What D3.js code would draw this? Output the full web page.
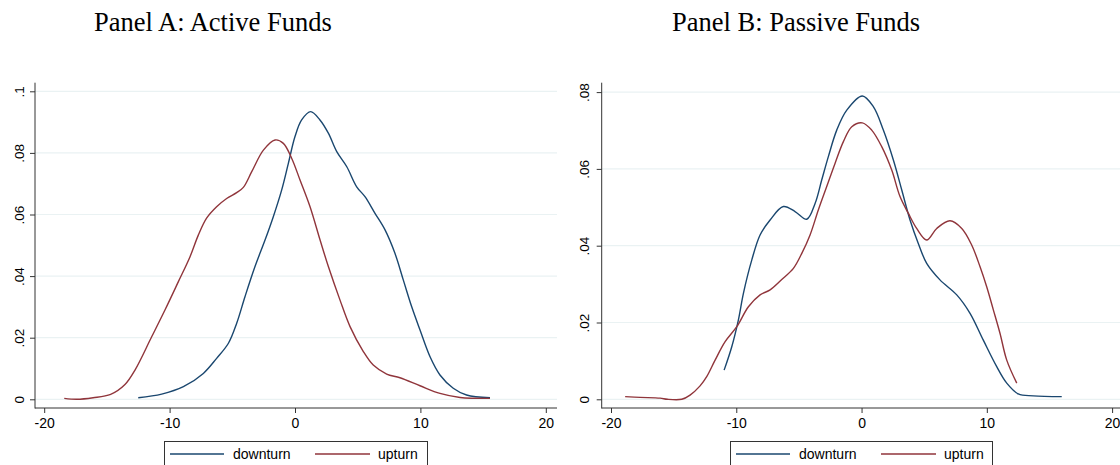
<!DOCTYPE html>
<html><head><meta charset="utf-8">
<script src="https://cdn.jsdelivr.net/npm/d3@7"></script>
<style>body{margin:0;background:#fff}svg{display:block}</style>
</head><body>
<script>
// ---------- data ----------
const titles = ["Panel A: Active Funds", "Panel B: Passive Funds"];
const seriesNames = ["downturn", "upturn"];
const xTicks = [-20, -10, 0, 10, 20];
const yTicksA = [0, 0.02, 0.04, 0.06, 0.08, 0.1];
const yTickLabelsA = ["0", ".02", ".04", ".06", ".08", ".1"];
const yTicksB = [0, 0.02, 0.04, 0.06, 0.08];
const yTickLabelsB = ["0", ".02", ".04", ".06", ".08"];

// Panel A: active funds, downturn
const activeDownX = [-12.5,-10.63,-8.9,-7.31,-6.25,-5.31,-4.65,-3.99,-3.19,-2.39,-1.73,-1.06,-0.53,0,0.53,1.25,1.99,2.66,3.33,4.13,4.92,5.58,6.38,7.18,7.97,8.64,9.3,9.97,10.77,11.56,12.62,13.68,15.55];
const activeDownY = [0.0005,0.0017,0.0041,0.0084,0.0133,0.0182,0.0247,0.0333,0.0431,0.0517,0.0593,0.068,0.0766,0.0853,0.0907,0.0934,0.0907,0.0864,0.0804,0.0755,0.069,0.0658,0.0604,0.055,0.0474,0.0387,0.0301,0.0225,0.0138,0.0079,0.0036,0.0014,0.0005];
// Panel A: active funds, upturn
const activeUpX = [-18.4,-17.4,-16.1,-14.7,-13.56,-12.76,-11.43,-10.37,-9.3,-8.37,-7.71,-7.05,-6.25,-5.45,-4.65,-4.12,-3.45,-2.52,-1.59,-0.93,-0.26,0.4,1.2,2.0,2.66,3.59,4.39,5.45,6.24,7.31,8.37,9.97,11.56,13.16,15.55];
const activeUpY = [0.0003,0.0,0.0005,0.0016,0.0048,0.0095,0.0203,0.029,0.0382,0.0463,0.0533,0.0588,0.0625,0.0652,0.0671,0.0688,0.0739,0.0809,0.0842,0.0831,0.0782,0.0712,0.0625,0.0517,0.0431,0.0322,0.0236,0.0155,0.0111,0.0082,0.007,0.0044,0.0019,0.0006,0.0003];
// Panel B: passive funds, downturn
const passiveDownX = [-10.97,-10.36,-9.83,-9.43,-8.76,-8.1,-7.3,-6.24,-5.31,-4.37,-3.71,-3.18,-2.65,-1.98,-1.18,0.06,0.94,1.74,2.54,3.21,3.87,4.53,5.2,6.26,7.6,8.66,9.72,10.79,11.59,12.51,13.71,15.98];
const passiveDownY = [0.0076,0.0137,0.0207,0.0276,0.0363,0.0428,0.0467,0.0502,0.0489,0.0469,0.051,0.0571,0.0632,0.0701,0.0753,0.079,0.0762,0.0701,0.0623,0.0545,0.0467,0.0406,0.0354,0.0311,0.0272,0.0224,0.0154,0.0085,0.0042,0.0014,0.0009,0.0007];
// Panel B: passive funds, upturn
const passiveUpX = [-18.87,-17.68,-16.08,-15.5,-14.35,-13.69,-12.89,-12.36,-11.69,-10.89,-9.96,-9.03,-8.1,-7.3,-6.37,-5.44,-4.77,-4.11,-3.45,-2.78,-2.11,-1.45,-0.78,0.06,0.81,1.61,2.41,3.07,3.74,4.4,5.2,6.0,7.06,8.0,8.79,9.46,9.99,10.52,11.05,11.59,12.39];
const passiveUpY = [0.0007,0.0005,0.0003,0.0,0.0,0.0011,0.0035,0.0059,0.0102,0.015,0.0189,0.0241,0.0272,0.0285,0.0312,0.0341,0.038,0.0428,0.0493,0.0554,0.0615,0.0671,0.071,0.072,0.0701,0.0658,0.0597,0.0528,0.0484,0.0445,0.0415,0.0445,0.0465,0.0445,0.0402,0.0345,0.0293,0.0233,0.0172,0.0102,0.0042];

// ---------- drawing ----------
const W = 1120, H = 465;
const svg = d3.select("body").append("svg").attr("width", W).attr("height", H);
const colors = ["#1a476f", "#90353b"];

const panels = [
  { title: titles[0], titleX: 94, axisX: 35, rightX: 557, x0: 44.2, x1: 545.8,
    yMax: 0.1, yTop: 91.3, yTicks: yTicksA, yLabels: yTickLabelsA, labelX: 24,
    series: [[activeDownX, activeDownY], [activeUpX, activeUpY]],
    legend: { x0: 164, x1: 427 } },
  { title: titles[1], titleX: 672, axisX: 601.7, rightX: 1120, x0: 611, x1: 1112.1,
    yMax: 0.08, yTop: 92.1, yTicks: yTicksB, yLabels: yTickLabelsB, labelX: 589,
    series: [[passiveDownX, passiveDownY], [passiveUpX, passiveUpY]],
    legend: { x0: 730, x1: 992 } }
];

const yZero = 399.3, axisY = 408, plotTop = 82.7;

panels.forEach(p => {
  const g = svg.append("g");
  const x = d3.scaleLinear().domain([-20, 20]).range([p.x0, p.x1]);
  const y = d3.scaleLinear().domain([0, p.yMax]).range([yZero, p.yTop]);

  // title
  g.append("text").attr("x", p.titleX).attr("y", 31)
    .attr("font-family", "'Liberation Serif','Times New Roman',serif")
    .attr("font-size", 26.5).attr("fill", "#000").text(p.title);

  // gridlines
  g.selectAll("line.grid").data(p.yTicks).join("line")
    .attr("x1", p.axisX).attr("x2", p.rightX)
    .attr("y1", d => y(d)).attr("y2", d => y(d))
    .attr("stroke", "#eaf2f3").attr("stroke-width", 1.2);

  // y axis
  const yAxis = d3.axisLeft(y).tickValues(p.yTicks).tickSize(5)
    .tickFormat((d, i) => p.yLabels[i]);
  const ya = g.append("g").attr("transform", `translate(${p.axisX},0)`).call(yAxis);
  ya.select(".domain").remove();
  ya.selectAll(".tick line").attr("stroke", "#333");
  ya.selectAll(".tick text")
    .attr("x", null).attr("dy", null)
    .attr("transform", `translate(${p.labelX - p.axisX},0) rotate(-90)`)
    .attr("text-anchor", "middle")
    .attr("font-family", "'Liberation Sans',Arial,sans-serif")
    .attr("font-size", 13.5).attr("fill", "#000");
  g.append("line").attr("x1", p.axisX).attr("x2", p.axisX)
    .attr("y1", plotTop).attr("y2", axisY + 0.5).attr("stroke", "#333").attr("stroke-width", 1);

  // x axis
  const xAxis = d3.axisBottom(x).tickValues(xTicks).tickSize(5).tickFormat(d3.format("d"));
  const xa = g.append("g").attr("transform", `translate(0,${axisY})`).call(xAxis);
  xa.select(".domain").remove();
  xa.selectAll(".tick line").attr("stroke", "#333");
  xa.selectAll(".tick text").attr("y", 10).attr("dy", "0.71em")
    .attr("font-family", "'Liberation Sans',Arial,sans-serif")
    .attr("font-size", 14).attr("fill", "#000")
    .text(d => d < 0 ? "-" + Math.abs(d) : d);
  g.append("line").attr("x1", p.axisX).attr("x2", p.rightX)
    .attr("y1", axisY).attr("y2", axisY).attr("stroke", "#333").attr("stroke-width", 1);

  // curves
  const line = d3.line().x(d => x(d[0])).y(d => y(d[1])).curve(d3.curveCatmullRom.alpha(0.5));
  p.series.forEach((s, i) => {
    const pts = s[0].map((v, k) => [v, s[1][k]]);
    g.append("path").datum(pts).attr("d", line)
      .attr("fill", "none").attr("stroke", colors[i]).attr("stroke-width", 1.4);
  });

  // legend
  const L = p.legend;
  g.append("rect").attr("x", L.x0 + 0.5).attr("y", 441.5)
    .attr("width", L.x1 - L.x0).attr("height", 40)
    .attr("fill", "#fff").attr("stroke", "#333").attr("stroke-width", 1);
  const ly = 454;
  const items = [
    { x1: L.x0 + 6, x2: L.x0 + 60, tx: L.x0 + 69 },
    { x1: L.x0 + 151, x2: L.x0 + 206, tx: L.x0 + 214 }
  ];
  items.forEach((it, i) => {
    g.append("line").attr("x1", it.x1).attr("x2", it.x2).attr("y1", ly).attr("y2", ly)
      .attr("stroke", colors[i]).attr("stroke-width", 1.4);
    g.append("text").attr("x", it.tx).attr("y", 459)
      .attr("font-family", "'Liberation Sans',Arial,sans-serif")
      .attr("font-size", 14).attr("fill", "#000").text(seriesNames[i]);
  });
});
</script>
</body></html>
